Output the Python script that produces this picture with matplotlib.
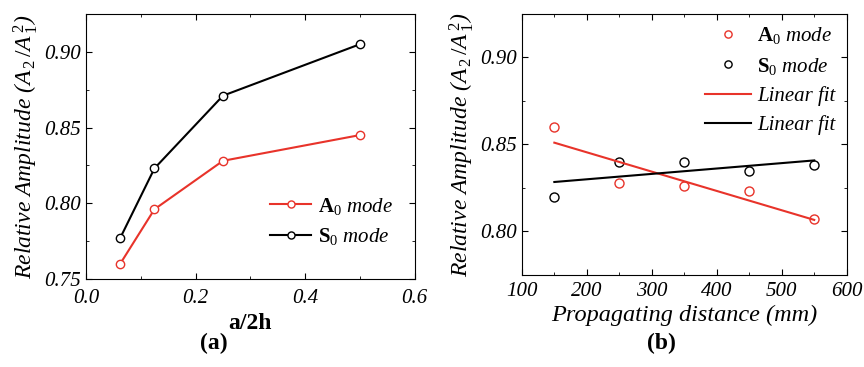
import numpy as np
import matplotlib
matplotlib.use("Agg")
import matplotlib.pyplot as plt
from matplotlib.ticker import MultipleLocator, FormatStrFormatter

plt.rcParams['font.family'] = 'Liberation Serif'
plt.rcParams['mathtext.fontset'] = 'custom'
plt.rcParams['mathtext.rm'] = 'Liberation Serif'
plt.rcParams['mathtext.it'] = 'Liberation Serif:italic'
plt.rcParams['mathtext.bf'] = 'Liberation Serif:bold'

# (a) amplitude vs damage size
a_ratio = [0.0625, 0.125, 0.25, 0.5]
a0_a = [0.760, 0.796, 0.828, 0.845]
s0_a = [0.777, 0.823, 0.871, 0.905]

# (b) amplitude vs propagating distance
dist = [150, 250, 350, 450, 550]
a0_b = [0.860, 0.828, 0.826, 0.823, 0.807]
s0_b = [0.820, 0.840, 0.840, 0.835, 0.838]

red = '#e8332a'
ylab = r'Relative Amplitude ($A_{\,2}\,/A_{\,1}^{\,2}$)'

fig = plt.figure(figsize=(8.64, 3.67), dpi=100)
ax1 = fig.add_axes([0.0995, 0.240, 0.3805, 0.722])
ax2 = fig.add_axes([0.604, 0.251, 0.376, 0.711])


def style(ax):
    ax.tick_params(which='both', direction='in', top=True, right=True, labelsize=15)
    ax.tick_params(which='major', length=4)
    ax.tick_params(which='minor', length=2.5)
    for lab in ax.get_xticklabels() + ax.get_yticklabels():
        lab.set_fontstyle('italic')
    ax.set_ylabel(ylab, fontsize=17, fontstyle='italic', labelpad=3)


# panel a
ax1.plot(a_ratio, a0_a, '-o', color=red, mfc='white', mec=red, ms=6, lw=1.5,
         label=r'$\mathbf{A}_{0}$ $\mathit{mode}$')
ax1.plot(a_ratio, s0_a, '-o', color='black', mfc='white', mec='black', ms=6, lw=1.5,
         label=r'$\mathbf{S}_{0}$ $\mathit{mode}$')
ax1.set_xlim(0, 0.6)
ax1.set_ylim(0.75, 0.925)
ax1.xaxis.set_major_locator(MultipleLocator(0.2))
ax1.xaxis.set_minor_locator(MultipleLocator(0.1))
ax1.yaxis.set_major_locator(MultipleLocator(0.05))
ax1.yaxis.set_minor_locator(MultipleLocator(0.025))
ax1.xaxis.set_major_formatter(FormatStrFormatter('%.1f'))
ax1.yaxis.set_major_formatter(FormatStrFormatter('%.2f'))
style(ax1)
ax1.tick_params(axis='x', pad=7)
ax1.set_xlabel('a/2h', fontsize=17, fontweight='bold', labelpad=4)
ax1.legend(loc='lower right', bbox_to_anchor=(0.99, 0.05), frameon=False,
           fontsize=15, handlelength=2.0, handletextpad=0.3, labelspacing=0.45,
           markerscale=0.85)

# panel b
ax2.plot(dist, a0_b, 'o', color=red, mfc='none', mec=red, ms=6.5,
         label=r'$\mathbf{A}_{0}$ $\mathit{mode}$')
ax2.plot(dist, s0_b, 'o', color='black', mfc='none', mec='black', ms=6.5,
         label=r'$\mathbf{S}_{0}$ $\mathit{mode}$')
xs = np.array(dist)
for y, c in [(a0_b, red), (s0_b, 'black')]:
    k, b = np.polyfit(dist, y, 1)
    ax2.plot(xs[[0, -1]], k * xs[[0, -1]] + b, color=c, lw=1.5, label='Linear fit')
ax2.set_xlim(100, 600)
ax2.set_ylim(0.775, 0.925)
ax2.xaxis.set_major_locator(MultipleLocator(100))
ax2.xaxis.set_minor_locator(MultipleLocator(50))
ax2.yaxis.set_major_locator(MultipleLocator(0.05))
ax2.yaxis.set_minor_locator(MultipleLocator(0.025))
ax2.yaxis.set_major_formatter(FormatStrFormatter('%.2f'))
style(ax2)
ax2.tick_params(axis='x', pad=5)
ax2.set_xlabel('Propagating distance (mm)', fontsize=17.5, fontstyle='italic', labelpad=3)
leg = ax2.legend(loc='upper right', frameon=False, fontsize=15, handlelength=2.2,
                 handletextpad=0.3, labelspacing=0.45, borderaxespad=0.15,
                 markerscale=0.8)
for t in leg.get_texts()[2:]:
    t.set_fontstyle('italic')

fig.text(0.247, 0.065, '(a)', fontsize=17, fontweight='bold', ha='center', va='center')
fig.text(0.766, 0.065, '(b)', fontsize=17, fontweight='bold', ha='center', va='center')

fig.savefig('out.png', dpi=100)
